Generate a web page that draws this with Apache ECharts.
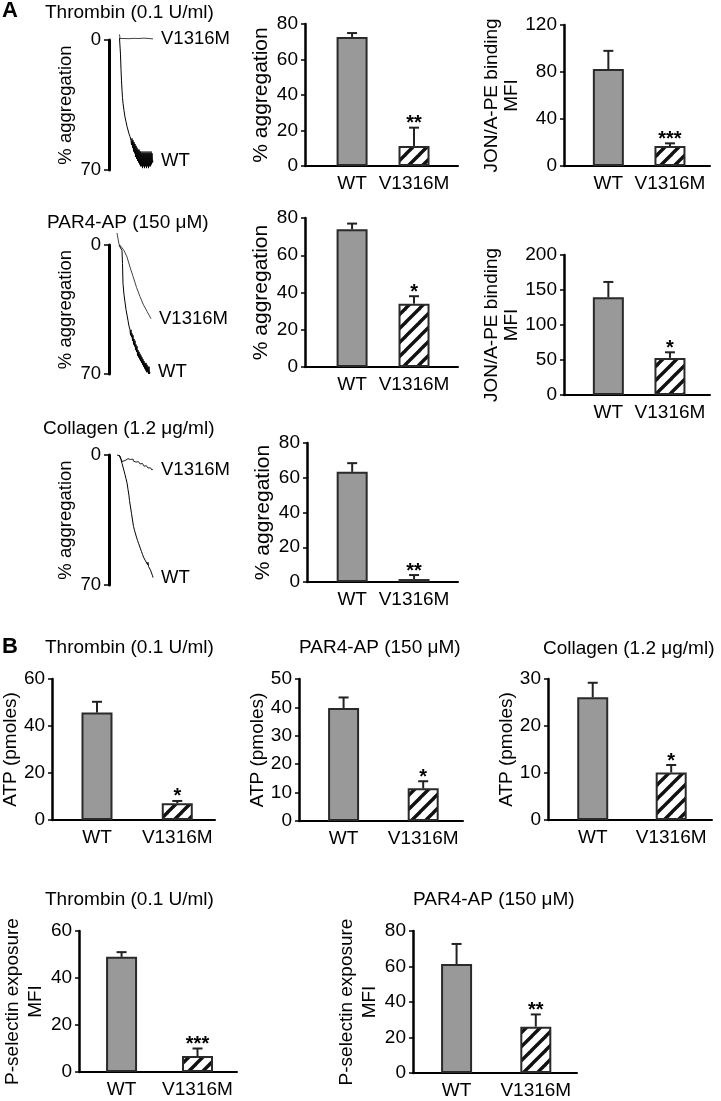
<!DOCTYPE html>
<html><head><meta charset="utf-8">
<script src="https://cdn.jsdelivr.net/npm/echarts@6/dist/echarts.min.js"></script>
<style>html,body{margin:0;padding:0;background:#fff}#c{width:721px;height:1101px}</style>
</head><body><div id="c"></div>
<script>
// ---------------- DATA ----------------
const groups = ['WT', 'V1316M'];
const traceTicks = [0, 70];

// Aggregation traces: [time (a.u.), % aggregation]
const thrombinTraceV = [[21,-3],[22,-0.8],[24,-0.6],[30,-0.8],[40,-0.7],[50,-0.9],[60,-0.8],[70,-1],[80,-0.8],[88,-0.6]];
const thrombinTraceWT = [[21,-1],[22,0],[23,8],[24,16],[25,22],[26,27],[27,31],[28,34],[30,38],[32,41.5],[34,44],[36,46.5],[38,48.5],[40,50.5],[42,52],[44,54],[45,56.5],[46,53],[47,58],[48,54],[49,60],[50,55],[51,61],[52,56],[53,63],[54,57],[55,64],[56,58],[57,65],[58,59],[59,66],[60,59],[61,67],[62,60],[63,68],[64,60],[65,68],[66,61],[67,69],[68,60],[69,68],[70,61],[71,69],[72,60],[73,68],[74,61],[75,69],[76,60],[77,68],[78,61],[79,69],[80,60],[81,68],[82,61],[83,68],[84,60],[85,67],[86,61],[87,66],[88,65]];
const par4TraceV = [[16,-6.5],[20,-0.5],[22,0],[26,1.5],[30,3],[36,6.5],[42,12],[48,17],[55,23],[62,28],[69,32.5],[76,36],[84,40]];
const par4TraceWT = [[20,0],[22,0.5],[24,1],[26,3],[27,10],[28,21],[30,27],[32,31],[34,35],[36,38],[38,41],[40,44],[42,46],[43,49],[44,46],[45,50],[46,48],[47,52],[48,49],[49,54],[50,51],[51,55],[52,52],[53,57],[54,54],[55,58],[56,55],[57,60],[58,57],[59,61],[60,58],[61,62],[62,59],[63,63],[64,60],[65,64],[66,61],[67,65],[68,62],[69,66],[70,63],[71,67],[72,64],[73,68],[74,64],[75,69],[76,65],[77,69],[78,66],[79,70],[80,66],[81,70],[82,69]];
const collagenTraceV = [[16,0],[20,0],[22,0.5],[24,2],[26,3.5],[28,3.8],[30,3.2],[32,3],[34,2.6],[36,2.5],[38,2],[40,1.6],[41,2.6],[42,1.4],[43,2.4],[44,1.6],[45,2.8],[46,1.8],[47,3],[48,2.2],[49,3.3],[50,2.5],[52,3.5],[53,2.8],[54,3.8],[55,3],[56,4],[57,3.3],[58,4.3],[59,3.6],[60,4.6],[61,3.8],[62,4.8],[63,4],[64,5],[65,4.3],[66,5.3],[67,4.6],[68,5.6],[69,4.9],[70,6],[71,5.2],[72,6.2],[73,5.5],[74,6.5],[75,5.8],[76,6.8],[77,6],[78,7],[79,6.3],[80,7.3],[81,6.6],[82,7.6],[83,6.9],[84,7.9],[85,7.2],[86,8.1],[87,7.5],[88,8]];
const collagenTraceWT = [[20,0],[22,1],[24,2.5],[26,4.5],[28,6.5],[30,8.5],[32,10.5],[34,12.7],[36,15],[38,18.5],[40,22],[41,24.5],[42,25.5],[43,28],[44,29],[45,31.5],[46,32.5],[47,35],[48,36],[49,38.5],[50,38.5],[51,40.5],[52,40.5],[53,42.5],[54,42.3],[55,44.2],[56,44],[57,46],[58,45.5],[59,47.5],[60,47],[61,49],[62,48.5],[63,50.5],[64,50],[65,52],[66,51.5],[67,53.5],[68,52.8],[69,55],[70,54],[71,56],[72,55],[73,57],[74,56],[75,58],[76,57],[77,59],[78,57.8],[79,60],[80,59],[81,61],[82,60],[83,62],[84,61],[85,63.5],[86,62.5],[87,65],[88,66]];

// Bar charts: means, SEM, significance
const aggThrombinMean = [72.7, 11.3], aggThrombinErr = [2.2, 10.3], aggThrombinSig = ['', '**'];
const jonThrombinMean = [82.5, 17], jonThrombinErr = [15.5, 2.3], jonThrombinSig = ['', '***'];
const aggPar4Mean = [74, 34], aggPar4Err = [3, 4], aggPar4Sig = ['', '*'];
const jonPar4Mean = [139.5, 53], jonPar4Err = [22, 8], jonPar4Sig = ['', '*'];
const aggCollagenMean = [63.4, 1.7], aggCollagenErr = [5, 2.3], aggCollagenSig = ['', '**'];
const atpThrombinMean = [45.7, 7.1], atpThrombinErr = [4.6, 1.0], atpThrombinSig = ['', '*'];
const atpPar4Mean = [39.8, 11.5], atpPar4Err = [3.7, 2.5], atpPar4Sig = ['', '*'];
const atpCollagenMean = [26.1, 10.1], atpCollagenErr = [3.1, 1.6], atpCollagenSig = ['', '*'];
const pselThrombinMean = [49, 6.8], pselThrombinErr = [2, 3.2], pselThrombinSig = ['', '***'];
const pselPar4Mean = [61.4, 26.1], pselPar4Err = [11.3, 6.9], pselPar4Sig = ['', '**'];

// ---------------- RENDER ----------------
const FONT = '"Liberation Sans", Arial, Helvetica, sans-serif';
const chart = echarts.init(document.getElementById('c'), null, {renderer: 'canvas', width: 721, height: 1101});

function hatch() {
  const s = 14, c = document.createElement('canvas');
  c.width = s; c.height = s;
  const g = c.getContext('2d');
  g.fillStyle = '#fff'; g.fillRect(0, 0, s, s);
  g.strokeStyle = '#111'; g.lineWidth = 3.4;
  for (const k of [-s, 0, s]) { g.beginPath(); g.moveTo(k - 1, s + 1); g.lineTo(k + s + 1, -1); g.stroke(); }
  return c;
}
const HATCH = hatch();

const grid = [], xAxis = [], yAxis = [], series = [];

function tracePanel(box, name, traces) {
  const gi = grid.length;
  grid.push({left: box[0], top: box[1], width: box[2], height: box[3]});
  xAxis.push({type: 'value', gridIndex: gi, min: 0, max: 100, show: false});
  yAxis.push({type: 'value', gridIndex: gi, inverse: true, min: traceTicks[0], max: traceTicks[1], interval: traceTicks[1] - traceTicks[0],
    axisLine: {show: true, onZero: false, lineStyle: {color: '#000', width: 3}},
    axisTick: {show: true, length: 5, lineStyle: {color: '#000', width: 1.5}},
    splitLine: {show: false},
    axisLabel: {color: '#000', fontSize: 18.5, fontFamily: FONT, margin: 8},
    name: name, nameLocation: 'middle', nameGap: 34,
    nameTextStyle: {color: '#000', fontSize: 18.5, fontFamily: FONT}});
  traces.forEach(t => series.push({type: 'line', name: t.name, xAxisIndex: gi, yAxisIndex: gi, data: t.data,
    symbol: 'none', clip: false, lineStyle: {color: t.color, width: 1},
    endLabel: {show: true, formatter: p => p.seriesName, distance: 8, color: '#000', fontSize: 18.5, fontFamily: FONT}}));
}

function barPanel(box, xr, yMax, yInt, name, nameGap, nameSize, lineH, means, errs, sigs) {
  const gi = grid.length;
  const fs = 19;
  grid.push({left: box[0], top: box[1], width: box[2], height: box[3]});
  xAxis.push({type: 'value', gridIndex: gi, min: xr[0], max: xr[1],
    axisLine: {show: true, onZero: false, lineStyle: {color: '#000', width: 2}},
    axisTick: {show: false}, splitLine: {show: false},
    axisLabel: {customValues: groups.map((g, i) => i), formatter: v => groups[Math.round(v)], color: '#000', fontSize: fs, fontFamily: FONT, margin: 8}});
  yAxis.push({type: 'value', gridIndex: gi, min: 0, max: yMax, interval: yInt,
    axisLine: {show: true, onZero: false, lineStyle: {color: '#000', width: 2.5}},
    axisTick: {show: true, length: 4, lineStyle: {color: '#000', width: 1.5}},
    splitLine: {show: false},
    axisLabel: {color: '#000', fontSize: fs, fontFamily: FONT, margin: 7},
    name: name, nameLocation: 'middle', nameGap: nameGap,
    nameTextStyle: {color: '#000', fontSize: nameSize, fontFamily: FONT, lineHeight: lineH}});
  series.push({type: 'bar', xAxisIndex: gi, yAxisIndex: gi, barWidth: 31,
    data: means.map((m, i) => ({value: [i, m], itemStyle: i === 0
      ? {color: '#999999', borderColor: '#2a2a2a', borderWidth: 2}
      : {color: {image: HATCH, repeat: 'repeat'}, borderColor: '#2a2a2a', borderWidth: 2}}))});
  series.push({type: 'custom', xAxisIndex: gi, yAxisIndex: gi, clip: false, z: 3,
    data: means.map((m, i) => [i, m, errs[i]]),
    renderItem: (params, api) => {
      const x = api.value(0), m = api.value(1), e = api.value(2);
      const p0 = api.coord([x, m]), p1 = api.coord([x, m + e]);
      const ch = [
        {type: 'line', shape: {x1: p0[0], y1: p0[1], x2: p1[0], y2: p1[1]}, style: {stroke: '#222', lineWidth: 2}},
        {type: 'line', shape: {x1: p1[0] - 5, y1: p1[1], x2: p1[0] + 5, y2: p1[1]}, style: {stroke: '#222', lineWidth: 2}}
      ];
      const s = sigs[params.dataIndex];
      if (s) ch.push({type: 'text', x: p1[0], y: p1[1] - 4, style: {text: s, fill: '#000', fontSize: 20, fontWeight: 'bold', fontFamily: FONT, align: 'center', verticalAlign: 'middle'}});
      return {type: 'group', children: ch};
    }});
}

// Panel A
tracePanel([109, 40, 50, 130], '% aggregation', [{name: 'V1316M', data: thrombinTraceV, color: '#444'}, {name: 'WT', data: thrombinTraceWT, color: '#000'}]);
barPanel([305, 24, 153, 142], [-0.76, 1.71], 80, 20, '% aggregation', 33, 21, 21, aggThrombinMean, aggThrombinErr, aggThrombinSig);
barPanel([564, 25, 146, 141], [-0.72, 1.65], 120, 40, 'JON/A-PE binding\nMFI', 36, 19, 20, jonThrombinMean, jonThrombinErr, jonThrombinSig);
tracePanel([109, 245, 50, 129], '% aggregation', [{name: 'V1316M', data: par4TraceV, color: '#444'}, {name: 'WT', data: par4TraceWT, color: '#000'}]);
barPanel([305, 218, 153, 149], [-0.76, 1.71], 80, 20, '% aggregation', 33, 21, 21, aggPar4Mean, aggPar4Err, aggPar4Sig);
barPanel([564, 255, 146, 140], [-0.72, 1.65], 200, 50, 'JON/A-PE binding\nMFI', 36, 19, 20, jonPar4Mean, jonPar4Err, jonPar4Sig);
tracePanel([109, 455, 50, 130], '% aggregation', [{name: 'V1316M', data: collagenTraceV, color: '#222'}, {name: 'WT', data: collagenTraceWT, color: '#000'}]);
barPanel([307, 443, 151, 139], [-0.73, 1.71], 80, 20, '% aggregation', 33, 21, 21, aggCollagenMean, aggCollagenErr, aggCollagenSig);
// Panel B
barPanel([52, 679, 163, 141], [-0.56, 1.47], 60, 20, 'ATP (pmoles)', 28, 19, 19, atpThrombinMean, atpThrombinErr, atpThrombinSig);
barPanel([299, 679, 164, 142], [-0.56, 1.50], 50, 10, 'ATP (pmoles)', 28, 19, 19, atpPar4Mean, atpPar4Err, atpPar4Sig);
barPanel([548, 679, 164, 141], [-0.57, 1.52], 30, 10, 'ATP (pmoles)', 28, 19, 19, atpCollagenMean, atpCollagenErr, atpCollagenSig);
barPanel([73, 931, 164, 141], [-0.56, 1.52], 60, 20, 'P-selectin exposure\nMFI', 28, 19, 23, pselThrombinMean, pselThrombinErr, pselThrombinSig);
barPanel([413, 931, 164, 142], [-0.55, 1.52], 80, 20, 'P-selectin exposure\nMFI', 28, 19, 23, pselPar4Mean, pselPar4Err, pselPar4Sig);

const tStyle = {fontSize: 19, fontWeight: 'normal', fontFamily: FONT, color: '#000'};
const titles = [
  ['A', 2, 0, true], ['B', 2, 636, true],
  ['Thrombin (0.1 U/ml)', 45, 3], ['PAR4-AP (150 \u03bcM)', 47, 213], ['Collagen (1.2 \u03bcg/ml)', 43, 419],
  ['Thrombin (0.1 U/ml)', 45, 638], ['PAR4-AP (150 \u03bcM)', 299, 638], ['Collagen (1.2 \u03bcg/ml)', 543, 639],
  ['Thrombin (0.1 U/ml)', 45, 890], ['PAR4-AP (150 \u03bcM)', 413, 890]
];

chart.setOption({
  animation: false,
  backgroundColor: '#fff',
  title: titles.map(t => ({text: t[0], left: t[1], top: t[2], padding: 0,
    textStyle: t[3] ? {fontSize: 22, fontWeight: 'bold', fontFamily: FONT, color: '#000'} : tStyle})),
  grid, xAxis, yAxis, series
});
</script></body></html>
